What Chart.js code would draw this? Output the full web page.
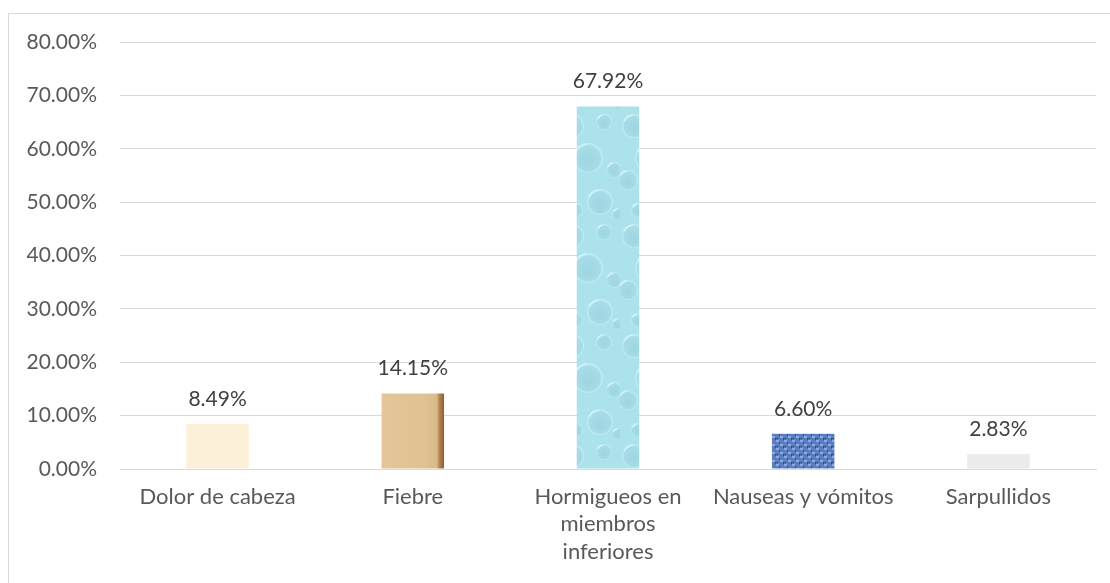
<!DOCTYPE html>
<html>
<head>
<meta charset="utf-8">
<script src="https://cdn.jsdelivr.net/npm/chart.js@4.4.1/dist/chart.umd.min.js"></script>
<style>
  html, body { margin: 0; padding: 0; background: #ffffff; }
  #frame { position: absolute; left: 8px; top: 13px; width: 1120px; height: 600px; border: 1px solid #d9d9d9; box-sizing: border-box; }
  #wrap { position: absolute; left: 0; top: 0; width: 1110px; height: 583px; }
</style>
</head>
<body>
<div id="frame"></div>
<div id="wrap"><canvas id="c" width="1110" height="583"></canvas></div>
<script>
const categories = ["Dolor de cabeza", "Fiebre", ["Hormigueos en", "miembros", "inferiores"], "Nauseas y vómitos", "Sarpullidos"];
const values = [8.49, 14.15, 67.92, 6.60, 2.83];
const valueLabels = ["8.49%", "14.15%", "67.92%", "6.60%", "2.83%"];
const tickMax = 80;
const tickStep = 10;
const barColors = ["#FDF0D9", "#DDBC8C", "#A8DFEA", "#5576BC", "#EBEBED"];

const FONT = "Lato, 'Open Sans', sans-serif";
const BAR_PCT = 0.32;

// texture fills (style only)
function makePattern(w, h, draw) {
  const c = document.createElement('canvas');
  c.width = w; c.height = h;
  draw(c.getContext('2d'), w, h);
  return c.getContext('2d').createPattern(c, 'repeat');
}
const dropsPattern = makePattern(62, 110, (g, w, h) => {
  g.fillStyle = "#ACE2EC"; g.fillRect(0, 0, w, h);
  const drops = [[14,16,12],[46,12,8],[30,48,15],[56,60,8],[8,70,10],[42,92,13],[18,100,7],[60,104,6]];
  drops.forEach(([x,y,r]) => {
    const gr = g.createRadialGradient(x, y + r*0.3, 1, x, y, r);
    gr.addColorStop(0, "#9ED6E2"); gr.addColorStop(0.8, "#A6DCE7"); gr.addColorStop(1, "#C6EEF4");
    g.fillStyle = gr; g.beginPath(); g.arc(x, y, r, 0, Math.PI*2); g.fill();
    g.strokeStyle = "#D4F3F8"; g.lineWidth = 1.5; g.beginPath(); g.arc(x, y, r - 1, 3.6, 4.6); g.stroke();
  });
});
const weavePattern = makePattern(8, 8, (g, w, h) => {
  g.fillStyle = "#5A7DC2"; g.fillRect(0, 0, w, h);
  g.fillStyle = "#8FA9DC"; g.fillRect(0, 0, 3, 2); g.fillRect(4, 4, 3, 2);
  g.fillStyle = "#2F4F93"; g.fillRect(3, 2, 1, 2); g.fillRect(7, 6, 1, 2); g.fillRect(0, 6, 2, 1);
});
function barFill(context) {
  const i = context.dataIndex;
  const chart = context.chart;
  if (i === 2) return dropsPattern;
  if (i === 3) return weavePattern;
  const xs = chart.scales && chart.scales.x;
  if (i === 1 && xs && isFinite(xs.left) && xs.width > 0) {
    const cx = xs.getPixelForValue(i);
    const half = (xs.width / categories.length) * BAR_PCT / 2;
    const gr = chart.ctx.createLinearGradient(cx - half, 0, cx + half, 0);
    gr.addColorStop(0, "#E3C598"); gr.addColorStop(0.7, "#E0C292"); gr.addColorStop(0.88, "#D9BB8A"); gr.addColorStop(0.93, "#B0814E"); gr.addColorStop(1, "#8F5F33");
    return gr;
  }
  return barColors[i];
}

const dataLabelPlugin = {
  id: 'dataLabels',
  afterDatasetsDraw(chart) {
    const ctx = chart.ctx;
    const meta = chart.getDatasetMeta(0);
    ctx.save();
    ctx.font = "21px " + FONT;
    ctx.fillStyle = "#404040";
    ctx.textAlign = "center";
    ctx.textBaseline = "alphabetic";
    meta.data.forEach((bar, i) => {
      ctx.fillText(valueLabels[i], bar.x, bar.y - 18);
    });
    ctx.restore();
  }
};

new Chart(document.getElementById('c'), {
  type: 'bar',
  data: {
    labels: categories,
    datasets: [{
      data: values,
      backgroundColor: barFill,
      borderWidth: 0,
      categoryPercentage: 1.0,
      barPercentage: BAR_PCT
    }]
  },
  options: {
    responsive: false,
    animation: false,
    devicePixelRatio: 1,
    layout: { padding: { left: 0, right: 14, top: 42, bottom: 0 } },
    plugins: { legend: { display: false }, tooltip: { enabled: false } },
    scales: {
      x: {
        grid: { display: false, drawTicks: false },
        border: { display: true, color: "#d9d9d9", width: 1 },
        ticks: { color: "#595959", font: { family: FONT, size: 22, lineHeight: 1.25 }, padding: 14, maxRotation: 0, autoSkip: false },
        afterFit(s) { s.height = 114; }
      },
      y: {
        min: 0, max: tickMax,
        grid: { color: "#d9d9d9", lineWidth: 1, drawTicks: false },
        border: { display: false },
        ticks: {
          stepSize: tickStep,
          color: "#595959",
          font: { family: FONT, size: 21 },
          padding: 23,
          callback: v => v.toFixed(2) + "%"
        },
        afterFit(s) { s.width = 120; }
      }
    }
  },
  plugins: [dataLabelPlugin]
});
</script>
</body>
</html>
